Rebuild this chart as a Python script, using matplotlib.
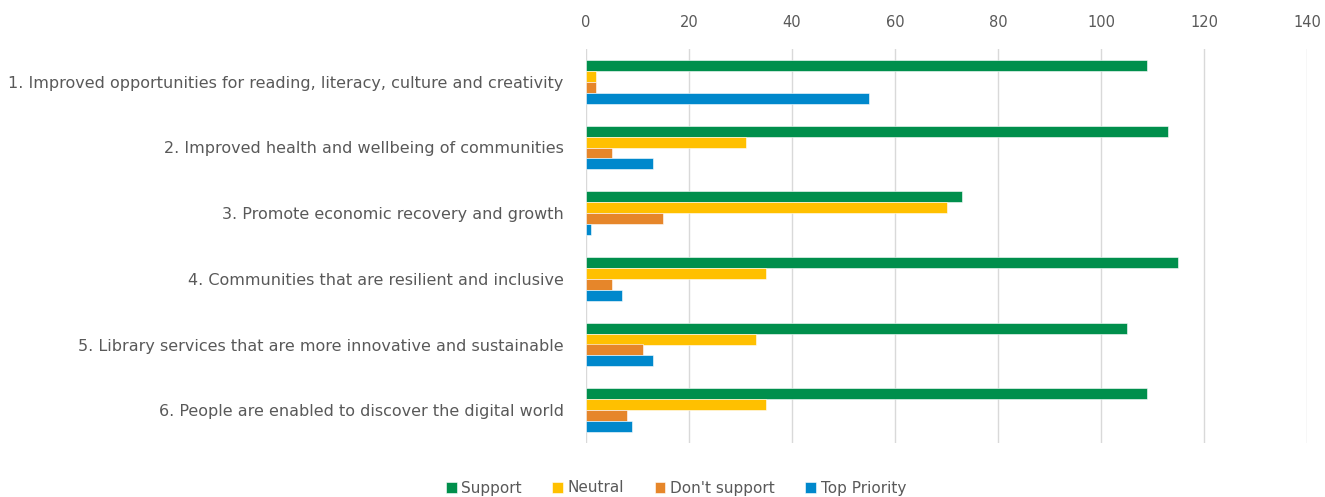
import matplotlib.pyplot as plt
import numpy as np

categories = [
    "1. Improved opportunities for reading, literacy, culture and creativity",
    "2. Improved health and wellbeing of communities",
    "3. Promote economic recovery and growth",
    "4. Communities that are resilient and inclusive",
    "5. Library services that are more innovative and sustainable",
    "6. People are enabled to discover the digital world",
]
support = [109, 113, 73, 115, 105, 109]
neutral = [2, 31, 70, 35, 33, 35]
dont_support = [2, 5, 15, 5, 11, 8]
top_priority = [55, 13, 1, 7, 13, 9]

series = [
    ("Support", support, "#008F4C"),
    ("Neutral", neutral, "#FFC000"),
    ("Don't support", dont_support, "#E6862A"),
    ("Top Priority", top_priority, "#0088CC"),
]

plt.rcParams['font.family'] = ['DejaVu Sans']

fig = plt.figure(figsize=(13.25, 4.97), dpi=100)
ax = fig.add_axes([586 / 1325, 1 - 443 / 497, (1307 - 586) / 1325, (443 - 49) / 497])

y = np.arange(len(categories))
h = 1 / 6
for i, (name, vals, color) in enumerate(series):
    ax.barh(y - 1.5 * h + i * h, vals, height=h, color=color, label=name,
            edgecolor='white', linewidth=0.4, zorder=3)

ax.set_ylim(len(categories) - 0.5, -0.5)
ax.set_xlim(0, 140)
ax.set_xticks(range(0, 141, 20))
ax.xaxis.tick_top()
ax.set_yticks(y)
ax.set_yticklabels(categories, fontsize=11.5)
ax.tick_params(axis='both', length=0, colors='#595959')
ax.tick_params(axis='x', pad=14, labelsize=10.5)
ax.tick_params(axis='y', pad=16)
ax.grid(axis='x', color='#D9D9D9', linewidth=1, zorder=0)
for s in ax.spines.values():
    s.set_visible(False)

handles, labels = ax.get_legend_handles_labels()
fig.legend(handles, labels, loc='center', bbox_to_anchor=(676 / 1325, 1 - 488 / 497),
           ncol=4, frameon=False, fontsize=11, labelcolor='#595959',
           handlelength=0.7, handleheight=0.7, handletextpad=0.3, columnspacing=2.0)

fig.savefig('out.png', dpi=100)
